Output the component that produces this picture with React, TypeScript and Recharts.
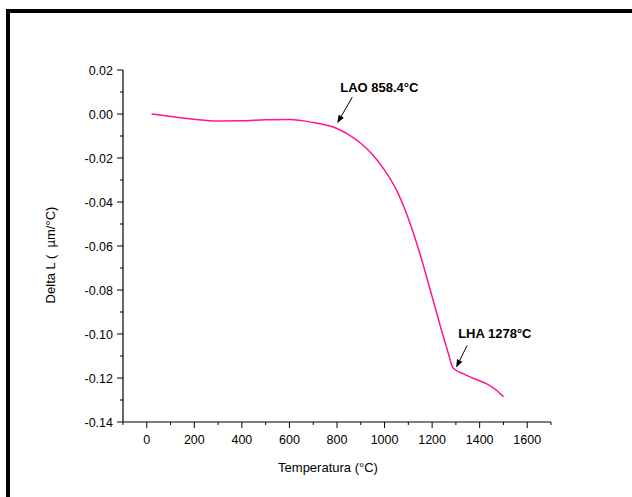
import React from 'react';
import { LineChart, Line, XAxis, YAxis, ReferenceDot } from 'recharts';

const temps = [20, 100, 200, 300, 400, 500, 600, 700, 800, 850, 900, 950, 1000, 1050, 1100, 1150, 1200, 1240, 1270, 1285, 1300, 1330, 1370, 1430, 1470, 1500];
const deltaL = [0, -0.0011, -0.0024, -0.0032, -0.0031, -0.0026, -0.0025, -0.0039, -0.0066, -0.0095, -0.0133, -0.0185, -0.0255, -0.0345, -0.0475, -0.064, -0.083, -0.0985, -0.1095, -0.1148, -0.1165, -0.118, -0.12, -0.1227, -0.1255, -0.1285];

const xTicks = [-100, 0, 100, 200, 300, 400, 500, 600, 700, 800, 900, 1000, 1100, 1200, 1300, 1400, 1500, 1600, 1700];
const yTicks = [-0.14, -0.13, -0.12, -0.11, -0.1, -0.09, -0.08, -0.07, -0.06, -0.05, -0.04, -0.03, -0.02, -0.01, 0, 0.01, 0.02];
const yLabels = ['-0.14', '-0.12', '-0.10', '-0.08', '-0.06', '-0.04', '-0.02', '0.00', '0.02'];

const data = temps.map((t, i) => ({ t, v: deltaL[i] }));

const FONT = 'Arial, "Liberation Sans", sans-serif';

const XTick = ({ x, y, payload }: any) => {
  const v = payload.value;
  const major = v % 200 === 0;
  return (
    <g>
      <line x1={x} y1={y} x2={x} y2={y + (major ? 6 : 3)} stroke="#000" strokeWidth={1} />
      {major && v >= 0 && v <= 1600 && (
        <text x={x} y={y + 21.5} textAnchor="middle" fontSize={12.5} fontFamily={FONT} fill="#000">{v}</text>
      )}
    </g>
  );
};

const YTick = ({ x, y, payload, index }: any) => {
  const major = index % 2 === 0;
  return (
    <g>
      <line x1={x} y1={y} x2={x - (major ? 6 : 3)} y2={y} stroke="#000" strokeWidth={1} />
      {major && (
        <text x={x - 10} y={y + 4.5} textAnchor="end" fontSize={12.5} fontFamily={FONT} fill="#000">{yLabels[index / 2]}</text>
      )}
    </g>
  );
};

const Arrow = ({ cx, cy, dx, dy, text, tx, ty }: any) => {
  const len = Math.sqrt(dx * dx + dy * dy);
  const ux = dx / len;
  const uy = dy / len;
  const hl = 8;
  const hw = 3;
  const bx = cx + ux * hl;
  const by = cy + uy * hl;
  return (
    <g>
      <line x1={bx} y1={by} x2={cx + dx} y2={cy + dy} stroke="#000" strokeWidth={1} />
      <polygon
        points={`${cx},${cy} ${bx - uy * hw},${by + ux * hw} ${bx + uy * hw},${by - ux * hw}`}
        fill="#000"
      />
      <text x={cx + tx} y={cy + ty} fontSize={13} fontWeight="bold" fontFamily={FONT} fill="#000">{text}</text>
    </g>
  );
};

export default function App() {
  return (
    <div style={{ position: 'absolute', left: 0, top: 0, width: 632, height: 497, background: '#fff' }}>
      <div style={{ position: 'absolute', left: 6, top: 9, right: 0, height: 4, background: '#000' }} />
      <div style={{ position: 'absolute', left: 6, top: 9, width: 4, bottom: 0, background: '#000' }} />
      <LineChart width={632} height={497} data={data} margin={{ top: 70, right: 81, bottom: 45, left: 63 }}>
        <XAxis
          dataKey="t"
          type="number"
          domain={[-100, 1700]}
          ticks={xTicks}
          interval={0}
          tickLine={false}
          tickSize={0}
          tickMargin={0}
          tick={<XTick />}
          height={30}
          axisLine={{ stroke: '#000', strokeWidth: 1.2 }}
          label={() => (
            <text x={328} y={471.5} textAnchor="middle" fontSize={13} fontFamily={FONT} fill="#000">Temperatura (°C)</text>
          )}
        />
        <YAxis
          type="number"
          domain={[-0.14, 0.02]}
          ticks={yTicks}
          interval={0}
          tickLine={false}
          tickSize={0}
          tickMargin={0}
          tick={<YTick />}
          width={60}
          axisLine={{ stroke: '#000', strokeWidth: 1.2 }}
          label={() => (
            <text x={54.5} y={255} transform="rotate(-90 54.5 255)" textAnchor="middle" fontSize={13} fontFamily={FONT} fill="#000">{'Delta L (\u00a0\u00a0µm/°C)'}</text>
          )}
        />
        <Line
          type="monotone"
          dataKey="v"
          stroke="#FF1493"
          strokeWidth={1.5}
          dot={false}
          isAnimationActive={false}
        />
        <ReferenceDot
          x={801}
          y={-0.0042}
          r={0}
          shape={(p: any) => <Arrow cx={p.cx} cy={p.cy} dx={15} dy={-26} tx={3} ty={-31} text="LAO 858.4°C" />}
        />
        <ReferenceDot
          x={1301}
          y={-0.1152}
          r={0}
          shape={(p: any) => <Arrow cx={p.cx} cy={p.cy} dx={11} dy={-22} tx={2} ty={-29} text="LHA 1278°C" />}
        />
      </LineChart>
    </div>
  );
}
